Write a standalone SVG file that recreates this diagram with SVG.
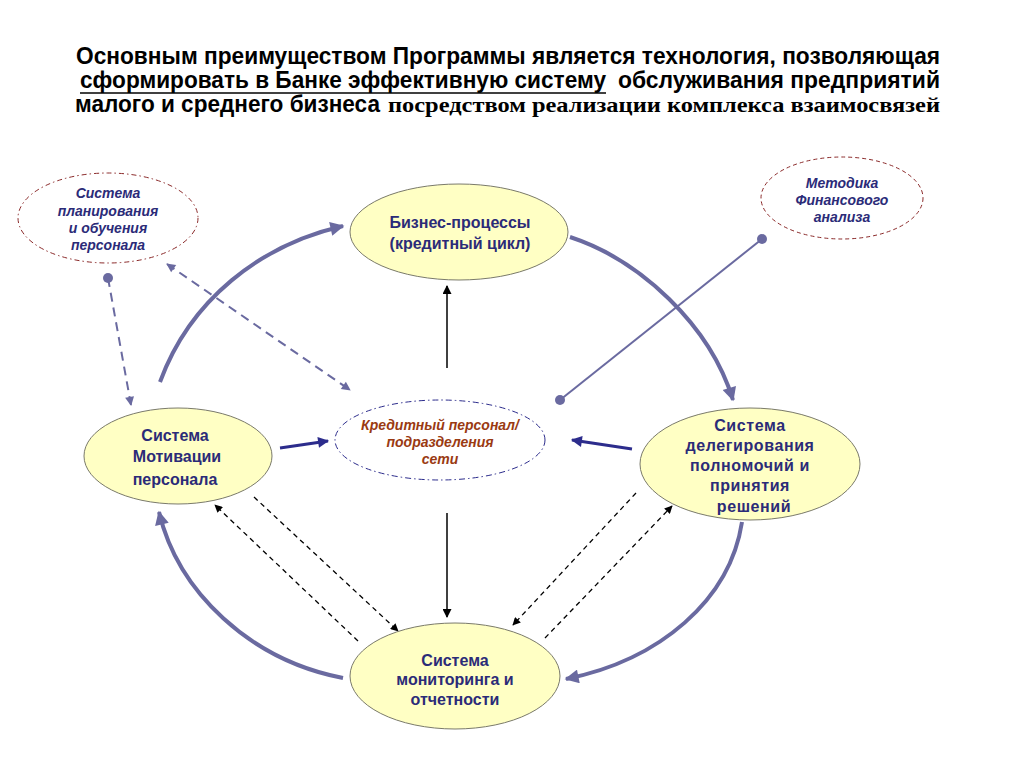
<svg xmlns="http://www.w3.org/2000/svg" width="1024" height="768" viewBox="0 0 1024 768">
<style>
.title{font-family:"Liberation Sans",Arial,sans-serif;font-weight:bold;font-size:23px;fill:#000}
.serif{font-family:"Liberation Serif","Times New Roman",serif;font-weight:bold;font-size:22px;fill:#000}
.node{fill:#FFFFC4;stroke:#7A7A6A;stroke-width:1}
.nt{font-family:"Liberation Sans",Arial,sans-serif;font-weight:bold;font-size:16px;fill:#2B2B78;text-anchor:middle}
.it{font-family:"Liberation Sans",Arial,sans-serif;font-weight:bold;font-style:italic;font-size:14px;fill:#2B2B78;text-anchor:middle}
.itb{font-family:"Liberation Sans",Arial,sans-serif;font-weight:bold;font-style:italic;font-size:14px;fill:#9A3A12;text-anchor:middle}
.curve{fill:none;stroke:#6A6AA0;stroke-width:4}
.navy{fill:none;stroke:#2C2C8C;stroke-width:3}
.blk{fill:none;stroke:#000;stroke-width:1.5}
.bdash{fill:none;stroke:#000;stroke-width:1.3;stroke-dasharray:5,4}
.pdash{fill:none;stroke:#6A6AA0;stroke-width:2;stroke-dasharray:9,6}
.pline{fill:none;stroke:#6A6AA0;stroke-width:2}
</style>
<defs>
<marker id="aCurve" viewBox="0 0 10 10" refX="9" refY="5" markerWidth="16" markerHeight="14" markerUnits="userSpaceOnUse" orient="auto"><path d="M0,0 L10,5 L0,10 Z" fill="#6A6AA0"/></marker>
<marker id="aNavy" viewBox="0 0 10 10" refX="9" refY="5" markerWidth="13" markerHeight="11" markerUnits="userSpaceOnUse" orient="auto"><path d="M0,0 L10,5 L0,10 Z" fill="#2C2C8C"/></marker>
<marker id="aBlk" viewBox="0 0 10 10" refX="9" refY="5" markerWidth="11" markerHeight="9" markerUnits="userSpaceOnUse" orient="auto"><path d="M0,0 L10,5 L0,10 Z" fill="#000"/></marker>
<marker id="aBd" viewBox="0 0 10 10" refX="9" refY="5" markerWidth="10" markerHeight="8" markerUnits="userSpaceOnUse" orient="auto-start-reverse"><path d="M0,0 L10,5 L0,10 Z" fill="#000"/></marker>
<marker id="aPd" viewBox="0 0 10 10" refX="9" refY="5" markerWidth="11" markerHeight="9" markerUnits="userSpaceOnUse" orient="auto-start-reverse"><path d="M0,0 L10,5 L0,10 Z" fill="#6A6AA0"/></marker>
<marker id="dot" viewBox="0 0 10 10" refX="5" refY="5" markerWidth="10" markerHeight="10" markerUnits="userSpaceOnUse"><circle cx="5" cy="5" r="5" fill="#6A6AA0"/></marker>
</defs>
<rect width="1024" height="768" fill="#fff"/>

<g id="title">
<text class="title" x="76" y="64" textLength="864" lengthAdjust="spacingAndGlyphs">Основным преимуществом Программы является технология, позволяющая</text>
<text class="title" x="80" y="88" textLength="526" lengthAdjust="spacingAndGlyphs">сформировать в Банке эффективную систему</text>
<line x1="80" y1="93" x2="606" y2="93" stroke="#000" stroke-width="1.6"/>
<text class="title" x="618" y="88" textLength="322" lengthAdjust="spacingAndGlyphs">обслуживания предприятий</text>
<text class="title" x="75" y="112" textLength="305" lengthAdjust="spacingAndGlyphs">малого и среднего бизнеса</text>
<text class="serif" x="388" y="112" textLength="552" lengthAdjust="spacingAndGlyphs">посредством реализации комплекса взаимосвязей</text>
</g>

<g id="connectors">
<path class="curve" d="M160,382 C190,300 260,245 343,226" marker-end="url(#aCurve)"/>
<path class="curve" d="M570,237 C640,260 710,325 733,400" marker-end="url(#aCurve)"/>
<path class="curve" d="M742,522 C730,600 660,660 566,679" marker-end="url(#aCurve)"/>
<path class="curve" d="M343,678 C250,660 178,592 159,512" marker-end="url(#aCurve)"/>
<line class="blk" x1="447" y1="368" x2="447" y2="286" marker-end="url(#aBlk)"/>
<line class="blk" x1="447" y1="513" x2="447" y2="617" marker-end="url(#aBlk)"/>
<line class="navy" x1="280" y1="448" x2="328" y2="441" marker-end="url(#aNavy)"/>
<line class="navy" x1="632" y1="449" x2="572" y2="440" marker-end="url(#aNavy)"/>
<line class="pdash" x1="108" y1="278" x2="131" y2="405" marker-start="url(#dot)" marker-end="url(#aPd)"/>
<line class="pdash" x1="167" y1="264" x2="350" y2="390" marker-start="url(#aPd)" marker-end="url(#aPd)"/>
<line class="pline" x1="762" y1="239" x2="560" y2="400" marker-start="url(#dot)" marker-end="url(#dot)"/>
<line class="bdash" x1="254" y1="497" x2="398" y2="631" marker-end="url(#aBd)"/>
<line class="bdash" x1="358" y1="641" x2="215" y2="505" marker-end="url(#aBd)"/>
<line class="bdash" x1="636" y1="493" x2="513" y2="625" marker-end="url(#aBd)"/>
<line class="bdash" x1="545" y1="638" x2="672" y2="506" marker-end="url(#aBd)"/>
</g>

<g id="node-business">
<ellipse class="node" cx="459" cy="232" rx="109" ry="48"/>
<text class="nt" x="460" y="228">Бизнес-процессы</text>
<text class="nt" x="460" y="249">(кредитный цикл)</text>
</g>

<g id="node-motivation">
<ellipse class="node" cx="178" cy="456" rx="94" ry="48"/>
<text class="nt" x="175" y="441">Система</text>
<text class="nt" x="177" y="462">Мотивации</text>
<text class="nt" x="175" y="485">персонала</text>
</g>

<g id="node-credit">
<ellipse cx="440" cy="440" rx="105" ry="40" fill="#fff" stroke="#2C2C8C" stroke-width="1" stroke-dasharray="6,3,1.5,3"/>
<text class="itb" x="440" y="430">Кредитный персонал/</text>
<text class="itb" x="440" y="447">подразделения</text>
<text class="itb" x="440" y="464">сети</text>
</g>

<g id="node-delegation">
<ellipse class="node" cx="750" cy="464" rx="110" ry="56"/>
<text class="nt" x="750" y="431" style="letter-spacing:0.6px">Система</text>
<text class="nt" x="750" y="451" style="letter-spacing:0.6px">делегирования</text>
<text class="nt" x="750" y="471" style="letter-spacing:0.6px">полномочий и</text>
<text class="nt" x="750" y="491" style="letter-spacing:0.6px">принятия</text>
<text class="nt" x="754" y="512" style="letter-spacing:0.6px">решений</text>
</g>

<g id="node-monitoring">
<ellipse class="node" cx="455" cy="676" rx="105" ry="53"/>
<text class="nt" x="455" y="666">Система</text>
<text class="nt" x="455" y="685">мониторинга и</text>
<text class="nt" x="455" y="705">отчетности</text>
</g>

<g id="node-planning">
<ellipse cx="108" cy="218" rx="90" ry="45" fill="#fff" stroke="#8B2A2A" stroke-width="1" stroke-dasharray="5,3,1.5,3"/>
<text class="it" x="108" y="198">Система</text>
<text class="it" x="108" y="216">планирования</text>
<text class="it" x="108" y="233">и обучения</text>
<text class="it" x="108" y="250">персонала</text>
</g>

<g id="node-method">
<ellipse cx="842" cy="198" rx="81" ry="41" fill="#fff" stroke="#8B2A2A" stroke-width="1" stroke-dasharray="4,3"/>
<text class="it" x="842" y="188">Методика</text>
<text class="it" x="842" y="205">Финансового</text>
<text class="it" x="842" y="222">анализа</text>
</g>
</svg>
